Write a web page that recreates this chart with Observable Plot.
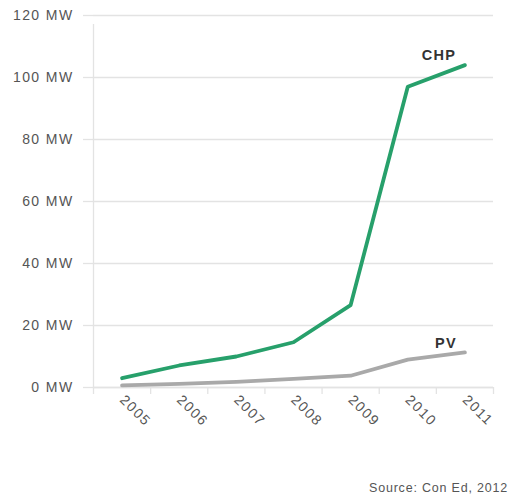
<!DOCTYPE html>
<html>
<head>
<meta charset="utf-8">
<script src="https://cdn.jsdelivr.net/npm/d3@7"></script>
<script src="https://cdn.jsdelivr.net/npm/@observablehq/plot@0.6"></script>
<style>
  html, body { margin: 0; padding: 0; background: #fff; }
  #wrap { position: relative; width: 509px; height: 500px; font-family: "Liberation Sans", Arial, sans-serif; }
  #caption { position: absolute; right: 1px; top: 481px; font-size: 12.5px; letter-spacing: 0.8px; color: #555; }
  #chart g[aria-label="y-axis tick label"] text { letter-spacing: 1.4px; }
  #chart g[aria-label="x-axis tick label"] text { letter-spacing: 1.6px; }
  #chart g[aria-label="text"] text { letter-spacing: 1.2px; }
</style>
</head>
<body>
<div id="wrap">
  <div id="chart"></div>
  <div id="caption">Source: Con Ed, 2012</div>
</div>
<script>
const years = [2005, 2006, 2007, 2008, 2009, 2010, 2011];
const chp = [3, 7.1, 10, 14.6, 26.6, 97, 104];
const pv = [0.7, 1.2, 1.8, 2.8, 3.8, 9, 11.3];
const yTicks = [0, 20, 40, 60, 80, 100, 120];
const xEdges = [2004.5, 2005.5, 2006.5, 2007.5, 2008.5, 2009.5, 2010.5, 2011.5];
const seriesLabels = ["CHP", "PV"];

const chpData = years.map((y, i) => ({year: y, value: chp[i]}));
const pvData = years.map((y, i) => ({year: y, value: pv[i]}));
const last = years.length - 1;

const gridColor = "#e3e3e3";
const chart = Plot.plot({
  width: 509,
  height: 478,
  marginLeft: 93,
  marginRight: 16,
  marginTop: 15,
  marginBottom: 91,
  style: {fontFamily: "'Liberation Sans', Arial, sans-serif", fontSize: "14px", color: "#555", background: "#fff"},
  x: {domain: [2004.5, 2011.5]},
  y: {domain: [0, 120]},
  marks: [
    Plot.gridY(yTicks, {stroke: gridColor, strokeOpacity: 1, strokeWidth: 1.3}),
    Plot.axisY(yTicks, {tickSize: 10, stroke: gridColor, strokeOpacity: 1, strokeWidth: 1.3, tickPadding: 10, tickFormat: d => `${d} MW`, label: null, fill: "#555", fontSize: 14}),
    Plot.ruleX([2004.5], {y1: 0, y2: 120, stroke: gridColor, strokeWidth: 1.3, insetBottom: -9}),
    Plot.ruleY([0], {stroke: gridColor, strokeWidth: 1.3}),
    Plot.axisX(xEdges, {tickSize: 7, tickFormat: () => "", stroke: gridColor, strokeOpacity: 1, strokeWidth: 1.3, label: null}),
    Plot.axisX(years, {tickSize: 0, tickRotate: 45, tickPadding: 10, tickFormat: d => String(d), label: null, fill: "#555", fontSize: 14}),
    Plot.line(pvData, {x: "year", y: "value", stroke: "#a9a9a9", strokeWidth: 3.8}),
    Plot.line(chpData, {x: "year", y: "value", stroke: "#27a06b", strokeWidth: 3.8}),
    Plot.text([chpData[last]], {x: "year", y: "value", text: () => seriesLabels[0], dx: -26, dy: -10, fontWeight: "bold", fontSize: 14.5, fill: "#333"}),
    Plot.text([pvData[last]], {x: "year", y: "value", text: () => seriesLabels[1], dx: -19, dy: -9, fontWeight: "bold", fontSize: 14.5, fill: "#333"})
  ]
});
document.getElementById("chart").appendChild(chart);
</script>
</body>
</html>
